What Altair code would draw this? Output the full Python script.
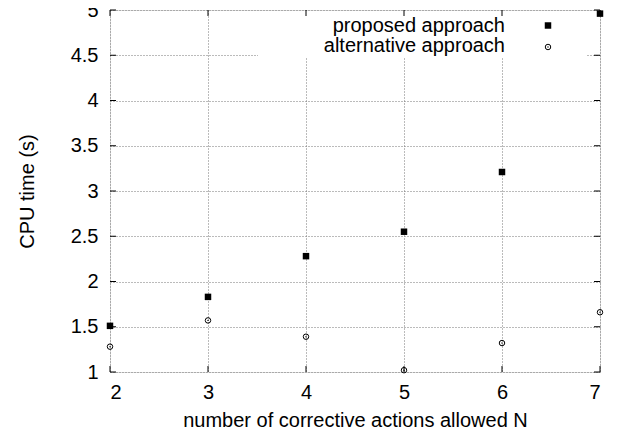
import altair as alt
import pandas as pd

n_actions = [2, 3, 4, 5, 6, 7]
proposed = [1.51, 1.83, 2.28, 2.55, 3.21, 4.96]
alternative = [1.28, 1.57, 1.39, 1.02, 1.32, 1.66]
x_ticks = [2, 3, 4, 5, 6, 7]
y_ticks = [1, 1.5, 2, 2.5, 3, 3.5, 4, 4.5, 5]
legend_labels = ["proposed approach", "alternative approach"]

W, H = 490, 362
FONT = "Liberation Sans"
FS = 20

df_p = pd.DataFrame({"N": n_actions, "t": proposed})
df_a = pd.DataFrame({"N": n_actions, "t": alternative})
df_xt = pd.DataFrame({"v": x_ticks})
df_yt = pd.DataFrame({"v": y_ticks})

xs = alt.Scale(domain=[2, 7], nice=False, zero=False)
ys = alt.Scale(domain=[1, 5], nice=False, zero=False)

grid_common = dict(grid=True, gridColor="#777777", gridDash=[1, 2], gridWidth=1,
                   tickSize=0, domain=False, labelFont=FONT, labelFontSize=FS,
                   labelColor="black", titleFont=FONT, titleFontSize=FS,
                   titleFontWeight="normal", titleColor="black")

x_enc = alt.X("N:Q", scale=xs,
              axis=alt.Axis(values=x_ticks, format="d", title="number of corrective actions allowed N",
                            labelPadding=10, titlePadding=8, **grid_common))
y_enc = alt.Y("t:Q", scale=ys,
              axis=alt.Axis(values=y_ticks, format="~g", title="CPU time (s)",
                            labelPadding=12, titlePadding=33, **grid_common))

base = alt.Chart(df_p).mark_point(opacity=0).encode(x=x_enc, y=y_enc)

legend_bg = alt.Chart(df_p).mark_rect(color="white").encode(
    x=alt.value(148), x2=alt.value(477), y=alt.value(1), y2=alt.value(47))

tick_len = 6
bottom_ticks = alt.Chart(df_xt).mark_rule(color="black", strokeWidth=1).encode(
    x=alt.X("v:Q", scale=xs), y=alt.value(H), y2=alt.value(H - tick_len))
top_ticks = alt.Chart(df_xt).mark_rule(color="black", strokeWidth=1).encode(
    x=alt.X("v:Q", scale=xs), y=alt.value(0), y2=alt.value(tick_len))
left_ticks = alt.Chart(df_yt).mark_rule(color="black", strokeWidth=1).encode(
    y=alt.Y("v:Q", scale=ys), x=alt.value(0), x2=alt.value(tick_len))
right_ticks = alt.Chart(df_yt).mark_rule(color="black", strokeWidth=1).encode(
    y=alt.Y("v:Q", scale=ys), x=alt.value(W), x2=alt.value(W - tick_len))

pts_p = alt.Chart(df_p).mark_point(shape="square", filled=True, color="black", size=42, opacity=1).encode(
    x=alt.X("N:Q", scale=xs), y=alt.Y("t:Q", scale=ys))
pts_a = alt.Chart(df_a).mark_point(shape="circle", filled=False, color="black", size=30,
                                   strokeWidth=1, opacity=1).encode(
    x=alt.X("N:Q", scale=xs), y=alt.Y("t:Q", scale=ys))
pts_a_dot = alt.Chart(df_a).mark_point(shape="circle", filled=True, color="black", size=2, opacity=1).encode(
    x=alt.X("N:Q", scale=xs), y=alt.Y("t:Q", scale=ys))

df_leg0 = pd.DataFrame({"label": [legend_labels[0]]})
df_leg1 = pd.DataFrame({"label": [legend_labels[1]]})


def leg_item(df, ytext, ysym, sq):
    txt = alt.Chart(df).mark_text(align="right", baseline="middle", font=FONT, fontSize=FS,
                                  color="black").encode(text="label:N", x=alt.value(395), y=alt.value(ytext))
    if sq:
        sym = [alt.Chart(df).mark_point(shape="square", filled=True, color="black", size=42,
                                        opacity=1).encode(x=alt.value(438), y=alt.value(ysym))]
    else:
        sym = [alt.Chart(df).mark_point(shape="circle", filled=False, color="black", size=30,
                                        opacity=1, strokeWidth=1).encode(x=alt.value(438), y=alt.value(ysym)),
               alt.Chart(df).mark_point(shape="circle", filled=True, color="black", size=2,
                                        opacity=1).encode(x=alt.value(438), y=alt.value(ysym))]
    return [txt] + sym


legend_layers = leg_item(df_leg0, 16, 15.5, True) + leg_item(df_leg1, 36, 37, False)

chart = alt.layer(base, legend_bg, bottom_ticks, top_ticks, left_ticks, right_ticks,
                  pts_a, pts_a_dot, pts_p, *legend_layers).properties(
    width=W, height=H,
    autosize=alt.AutoSizeParams(type="none"),
    padding={"left": 102, "top": 2, "right": 20, "bottom": 60},
).configure_view(stroke="black", strokeWidth=1.5).configure(background="white")

chart.save("out.html", embed_options={"renderer": "svg", "actions": False})
